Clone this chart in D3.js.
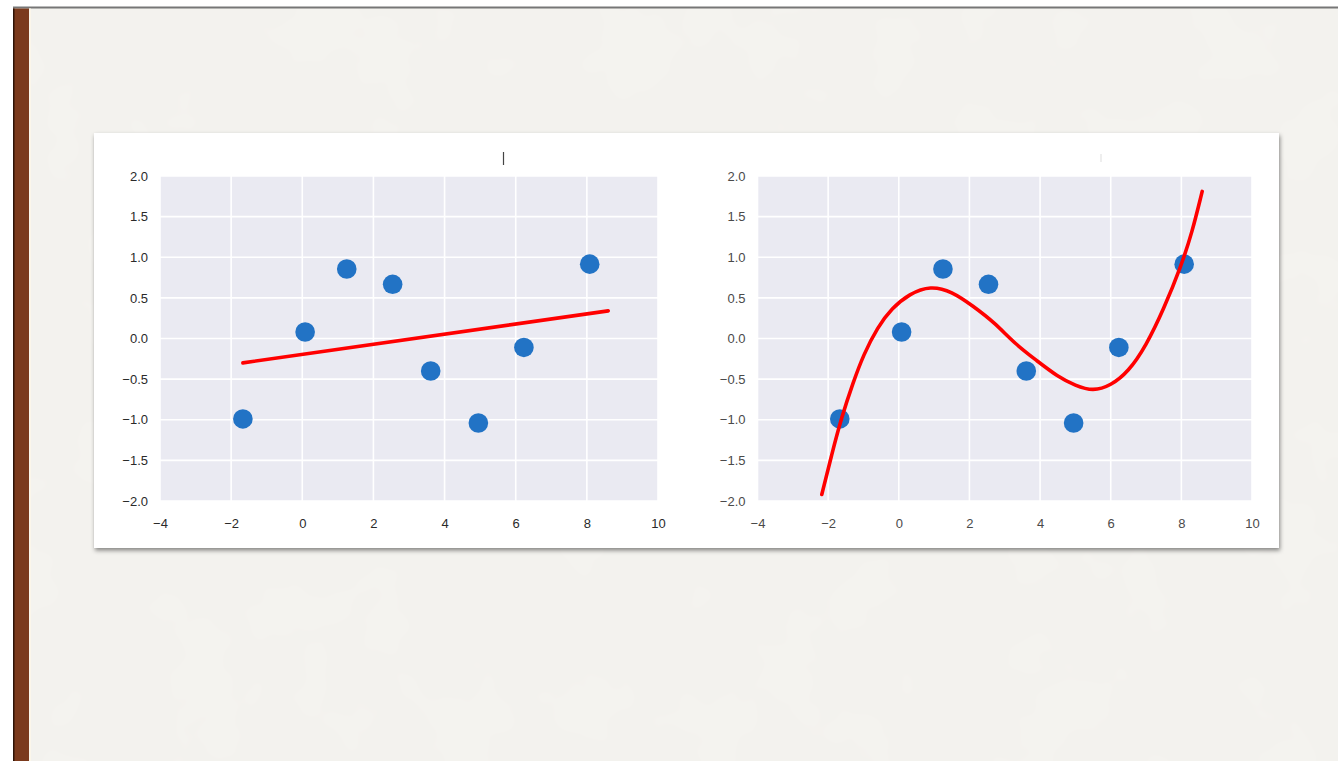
<!DOCTYPE html>
<html>
<head>
<meta charset="utf-8">
<script src="https://cdn.jsdelivr.net/npm/d3@7"></script>
<style>
  html, body { margin: 0; padding: 0; background: #ffffff; }
  svg { display: block; }
</style>
</head>
<body>
<svg id="slide" width="1338" height="761"></svg>
<script>
// Observations shared by both panels
const pointX = [-1.67, 0.08, 1.25, 2.54, 3.61, 4.95, 6.23, 8.08];
const pointY = [-0.99, 0.08, 0.855, 0.667, -0.40, -1.04, -0.11, 0.915];

// Straight-line fit (left panel)
const lineFitX = [-1.67, 8.6];
const lineFitY = [-0.30, 0.34];

// Cubic fit sampled along its path (right panel)
const cubicX = [-2.18, -1.9, -1.62, -1.3, -1.0, -0.6, -0.2, 0.3, 0.9, 1.5, 2.1, 2.7, 3.3, 3.9, 4.5, 5.0, 5.5, 6.0, 6.5, 7.0, 7.5, 8.0, 8.3, 8.59];
const cubicY = [-1.92, -1.43, -0.97, -0.55, -0.20, 0.14, 0.37, 0.55, 0.65, 0.58, 0.40, 0.20, -0.07, -0.27, -0.47, -0.58, -0.65, -0.58, -0.41, -0.09, 0.36, 0.90, 1.30, 1.81];

// Axis ticks
const xTicks = [-4, -2, 0, 2, 4, 6, 8, 10];
const yTicks = [-2, -1.5, -1, -0.5, 0, 0.5, 1, 1.5, 2];
const xDomain = [-4, 10];
const yDomain = [-2, 2];

const svg = d3.select("#slide");
const defs = svg.append("defs");

// soft paper grain for the slide background
const grain = defs.append("filter").attr("id", "grain")
  .attr("x", 0).attr("y", 0).attr("width", "100%").attr("height", "100%");
grain.append("feTurbulence").attr("type", "fractalNoise")
  .attr("baseFrequency", 0.012).attr("numOctaves", 3).attr("seed", 7).attr("result", "noise");
grain.append("feColorMatrix").attr("in", "noise").attr("type", "matrix")
  .attr("values", "0 0 0 0 0.80  0 0 0 0 0.79  0 0 0 0 0.76  0 0 0 0.10 0");

const shadow = defs.append("filter").attr("id", "cardShadow")
  .attr("x", "-5%").attr("y", "-5%").attr("width", "110%").attr("height", "115%");
shadow.append("feDropShadow").attr("dx", 1).attr("dy", 2.5)
  .attr("stdDeviation", 2).attr("flood-color", "#000").attr("flood-opacity", 0.45);

// slide background
svg.append("rect").attr("x", 13).attr("y", 8).attr("width", 1325).attr("height", 753)
  .attr("fill", "#f4f3ef");
svg.append("rect").attr("x", 13).attr("y", 8).attr("width", 1325).attr("height", 753)
  .attr("filter", "url(#grain)");
// top rule
svg.append("rect").attr("x", 13).attr("y", 6.5).attr("width", 1325).attr("height", 2)
  .attr("fill", "#767676");
// brown binding strip on the left
svg.append("rect").attr("x", 13).attr("y", 8.5).attr("width", 16).attr("height", 753)
  .attr("fill", "#7b3a1d");
svg.append("rect").attr("x", 13).attr("y", 8.5).attr("width", 1.5).attr("height", 753)
  .attr("fill", "#2e1408");
svg.append("rect").attr("x", 29).attr("y", 8.5).attr("width", 2).attr("height", 753)
  .attr("fill", "#fbf6ea");

// white card holding the two panels
svg.append("rect").attr("x", 94).attr("y", 133).attr("width", 1185).attr("height", 415)
  .attr("fill", "#ffffff").attr("filter", "url(#cardShadow)");

// small leftover marks above the panels
svg.append("line").attr("x1", 503.5).attr("x2", 503.5).attr("y1", 152).attr("y2", 165)
  .attr("stroke", "#444").attr("stroke-width", 1.2);
svg.append("line").attr("x1", 1101).attr("x2", 1101).attr("y1", 154).attr("y2", 162)
  .attr("stroke", "#ddd").attr("stroke-width", 1);

function drawPanel(left, right, labelColor, fitX, fitY, smooth) {
  const top = 176, bottom = 501;
  const x = d3.scaleLinear().domain(xDomain).range([left, right]);
  const y = d3.scaleLinear().domain(yDomain).range([bottom, top]);
  const g = svg.append("g");

  g.append("rect").attr("x", left).attr("y", top)
    .attr("width", right - left).attr("height", bottom - top)
    .attr("fill", "#eaeaf2");

  // grid
  g.selectAll(".vg").data(xTicks).join("line")
    .attr("x1", d => x(d)).attr("x2", d => x(d)).attr("y1", top).attr("y2", bottom)
    .attr("stroke", "#ffffff").attr("stroke-width", 1.6);
  g.selectAll(".hg").data(yTicks).join("line")
    .attr("y1", d => y(d)).attr("y2", d => y(d)).attr("x1", left).attr("x2", right)
    .attr("stroke", "#ffffff").attr("stroke-width", 1.6);

  // axes (labels only)
  const ax = g.append("g").attr("transform", `translate(0,${bottom})`)
    .call(d3.axisBottom(x).tickValues(xTicks).tickSize(0).tickPadding(18).tickFormat(d3.format("d")));
  const ay = g.append("g").attr("transform", `translate(${left},0)`)
    .call(d3.axisLeft(y).tickValues(yTicks).tickSize(0).tickPadding(12).tickFormat(d3.format(".1f")));
  [ax, ay].forEach(a => {
    a.select(".domain").remove();
    a.selectAll("text").attr("font-size", 13).attr("fill", labelColor)
      .attr("font-family", "'Liberation Sans', Arial, sans-serif");
  });

  // fitted model
  const pts = fitX.map((v, i) => [v, fitY[i]]);
  const line = d3.line().x(d => x(d[0])).y(d => y(d[1]))
    .curve(smooth ? d3.curveBasis : d3.curveLinear);

  // observations
  g.selectAll(".pt").data(pointX.map((v, i) => [v, pointY[i]])).join("circle")
    .attr("cx", d => x(d[0])).attr("cy", d => y(d[1])).attr("r", 9.8)
    .attr("fill", "#2273c5");

  g.append("path").attr("d", line(pts)).attr("fill", "none")
    .attr("stroke", "#ff0000").attr("stroke-width", 3.6)
    .attr("stroke-linecap", "round").attr("stroke-linejoin", "round");
}

drawPanel(160, 658, "#2a2a2a", lineFitX, lineFitY, false);
drawPanel(757.5, 1252, "#4a4a4a", cubicX, cubicY, true);
</script>
</body>
</html>
